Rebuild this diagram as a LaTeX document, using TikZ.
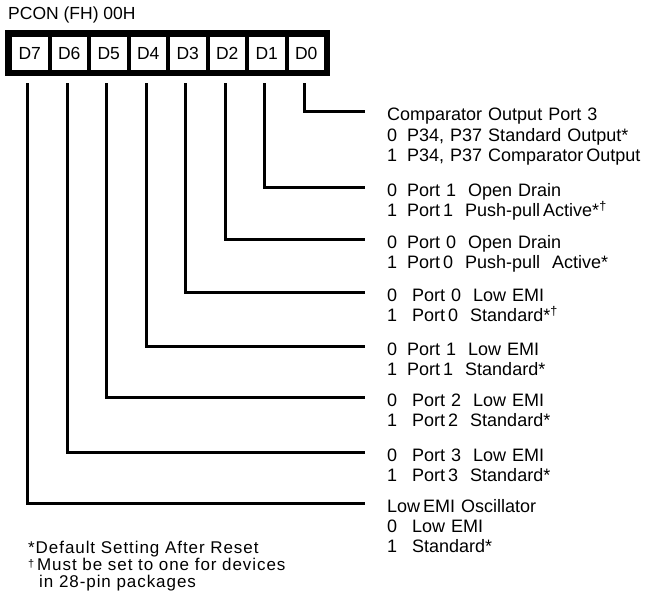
\documentclass[tikz,border=0pt]{standalone}
\usepackage{fontspec}
\setmainfont{Liberation Sans}
\newfontfamily\notefont[LetterSpace=5.5]{Liberation Sans}
\usetikzlibrary{positioning}

\newcommand{\bitval}[2]{\makebox[20bp][l]{#1}#2}
\newcommand{\bitwide}[2]{\makebox[25bp][l]{#1}#2}
\newcommand{\smalldag}{{\fontsize{11bp}{11bp}\selectfont\raisebox{3bp}{†}}}

\begin{document}
\begin{tikzpicture}[x=1bp, y=-1bp,
    font=\fontsize{17.5bp}{20bp}\selectfont,
    bitcell/.style={fill=white, minimum width=35.5bp, minimum height=33bp, inner sep=0pt},
    wire/.style={line width=3bp},
    txt/.style={inner sep=0pt, text width=258bp, align=left, text height=19bp, text depth=1bp,
        font=\fontsize{18bp}{20bp}\selectfont},
    fnote/.style={inner sep=0pt, text width=300bp, align=left, text height=12.5bp, text depth=4bp,
        font=\notefont\fontsize{17bp}{20bp}\selectfont}]
\useasboundingbox (0,0) rectangle (646,592);

\node[anchor=west, inner sep=0pt] (title) at (8,15) {PCON (FH) 00H};
\node[fill=black, minimum width=325bp, minimum height=46bp, inner sep=0pt] (reg) at (167.5,53) {};
\foreach \b [count=\i from 0] in {7,...,0}
    \node[bitcell] (d\b) at (29.75+39.5*\i, 53.5) {D\b};

% bit lines
\foreach \b/\y in {0/112, 1/187, 2/239, 3/292, 4/346, 5/397, 6/452, 7/503} {
    \coordinate (e\b) at (365,\y);
    \draw[wire] ([xshift=-2bp, yshift=-13bp]d\b.south) |- (e\b);
}

\node[txt, right=22bp of e0] (c0a) {Comparator Output Port 3};
\node[txt, below=0bp of c0a] (c0b) {\bitval{0}{P34, P37 Standard Output*}};
\node[txt, below=0bp of c0b] (c0c) {\bitval{1}{P34, P37 Comparator\,Output}};

\node[txt, right=22bp of e1] (c1a) {\bitval{0}{Port 1\ \ Open Drain}};
\node[txt, below=0bp of c1a] (c1b) {\bitval{1}{Port\,1\ \ Push-pull\,Active*\textsuperscript{†}}};

\node[txt, right=22bp of e2] (c2a) {\bitval{0}{Port 0\ \ Open Drain}};
\node[txt, below=0bp of c2a] (c2b) {\bitval{1}{Port\,0\ \ Push-pull\ \ Active*}};

\node[txt, right=22bp of e3] (c3a) {\bitwide{0}{Port 0\ \ Low EMI}};
\node[txt, below=0bp of c3a] (c3b) {\bitwide{1}{Port\,0\ \ Standard*\textsuperscript{†}}};

\node[txt, right=22bp of e4] (c4a) {\bitval{0}{Port 1\ \ Low EMI}};
\node[txt, below=0bp of c4a] (c4b) {\bitval{1}{Port\,1\ \ Standard*}};

\node[txt, right=22bp of e5] (c5a) {\bitwide{0}{Port 2\ \ Low EMI}};
\node[txt, below=0bp of c5a] (c5b) {\bitwide{1}{Port\,2\ \ Standard*}};

\node[txt, right=22bp of e6] (c6a) {\bitwide{0}{Port 3\ \ Low EMI}};
\node[txt, below=0bp of c6a] (c6b) {\bitwide{1}{Port\,3\ \ Standard*}};

\node[txt, right=22bp of e7] (c7a) {Low\,EMI Oscillator};
\node[txt, below=0bp of c7a] (c7b) {\bitwide{0}{Low EMI}};
\node[txt, below=0bp of c7b] (c7c) {\bitwide{1}{Standard*}};

% footnotes
\node[fnote, anchor=west] (fn1) at (28,549) {*Default Setting After Reset};
\node[fnote, below=0bp of fn1] (fn2) {\smalldag\,Must be set to one for devices};
\node[fnote, below=0bp of fn2] (fn3) {\hspace{11bp}in 28-pin packages};
\end{tikzpicture}
\end{document}
